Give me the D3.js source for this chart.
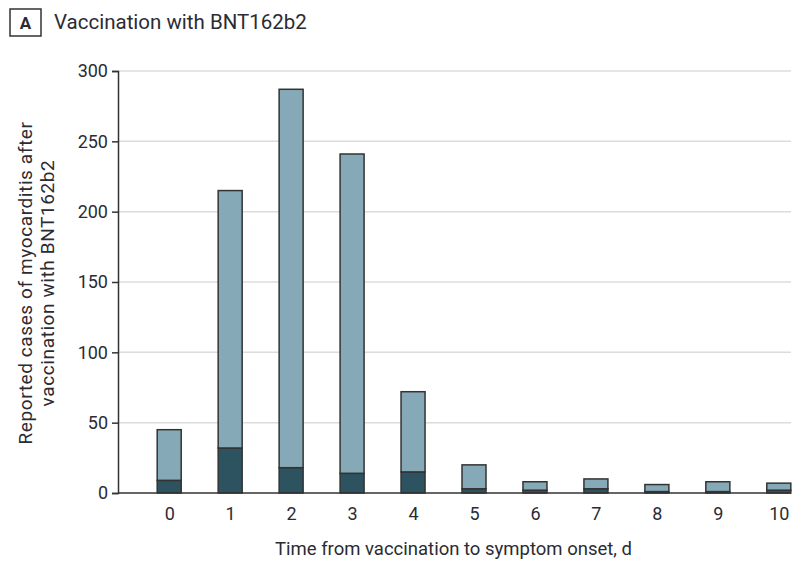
<!DOCTYPE html>
<html>
<head>
<meta charset="utf-8">
<script src="https://cdn.jsdelivr.net/npm/d3@7"></script>
<style>
  html, body { margin: 0; padding: 0; background: #fff; }
  svg { display: block; }
  text { font-family: "Roboto", "Liberation Sans", sans-serif; fill: #2b2b33; }
</style>
</head>
<body>
<svg id="chart" width="792" height="562"></svg>
<script>
// Days from vaccination to symptom onset
const days = [0, 1, 2, 3, 4, 5, 6, 7, 8, 9, 10];
// Dark lower segment of each bar
const darkCases = [9, 32, 18, 14, 15, 3, 2, 3, 1, 1, 2];
// Light upper segment of each bar (remaining reported cases)
const lightCases = [36, 183, 269, 227, 57, 17, 6, 7, 5, 7, 5];
const yTicks = [0, 50, 100, 150, 200, 250, 300];

const svg = d3.select("#chart");
const plotLeft = 118, plotRight = 791, plotTop = 71, plotBottom = 493;
const fontStack = "Roboto, 'Liberation Sans', sans-serif";

const x = d3.scaleLinear().domain([-0.84, 10.2]).range([plotLeft, plotRight]);
const y = d3.scaleLinear().domain([0, 300]).range([plotBottom, plotTop]);
const barW = 24;

const rows = days.map((d, i) => ({ day: d, dark: darkCases[i], light: lightCases[i] }));
const stacked = d3.stack().keys(["dark", "light"])(rows);
const fills = { dark: "#2d5360", light: "#86a9b8" };

// Horizontal gridlines
svg.append("g").selectAll("line")
  .data(yTicks.filter(t => t > 0))
  .join("line")
  .attr("x1", plotLeft).attr("x2", plotRight)
  .attr("y1", d => y(d)).attr("y2", d => y(d))
  .attr("stroke", "#dcdcdc").attr("stroke-width", 1.5);

// Stacked bars
svg.append("g").selectAll("g")
  .data(stacked)
  .join("g")
  .attr("fill", s => fills[s.key])
  .selectAll("rect")
  .data(s => s)
  .join("rect")
  .attr("x", d => x(d.data.day) - barW / 2)
  .attr("width", barW)
  .attr("y", d => y(d[1]))
  .attr("height", d => y(d[0]) - y(d[1]))
  .attr("stroke", "#333")
  .attr("stroke-width", 1.5);

// Y axis
const yAxis = svg.append("g")
  .attr("transform", `translate(${plotLeft},0)`)
  .call(d3.axisLeft(y).tickValues(yTicks).tickSize(6).tickPadding(4));
yAxis.select(".domain").attr("stroke", "#333").attr("stroke-width", 1.5);
yAxis.selectAll(".tick line").attr("stroke", "#333").attr("stroke-width", 1.5);
yAxis.selectAll("text").attr("font-size", 18).attr("fill", "#2b2b33")
  .style("font-family", fontStack);

// X axis
const xAxis = svg.append("g")
  .attr("transform", `translate(0,${plotBottom})`)
  .call(d3.axisBottom(x).tickValues(days).tickSize(0).tickPadding(14).tickFormat(d3.format("d")));
xAxis.select(".domain").attr("d", `M${plotLeft},0H${plotRight}`).attr("stroke", "#333").attr("stroke-width", 1.5);
xAxis.selectAll("text").attr("font-size", 18).attr("fill", "#2b2b33")
  .style("font-family", fontStack);

// Axis titles
svg.append("text")
  .attr("x", 453.5).attr("y", 555)
  .attr("text-anchor", "middle").attr("font-size", 18.5)
  .text("Time from vaccination to symptom onset, d");

const yTitle = svg.append("text")
  .attr("transform", `translate(32,283) rotate(-90)`)
  .attr("text-anchor", "middle").attr("font-size", 19)
  .attr("letter-spacing", 0.6);
yTitle.append("tspan").attr("x", 0).attr("dy", 0).text("Reported cases of myocarditis after");
yTitle.append("tspan").attr("x", 0).attr("dy", 22).text("vaccination with BNT162b2");

// Panel label and title
svg.append("rect")
  .attr("x", 10).attr("y", 9).attr("width", 31).attr("height", 27)
  .attr("fill", "none").attr("stroke", "#333").attr("stroke-width", 1.5);
svg.append("text")
  .attr("x", 25.5).attr("y", 29).attr("text-anchor", "middle")
  .attr("font-size", 17).attr("font-weight", "bold").attr("fill", "#222")
  .text("A");
svg.append("text")
  .attr("x", 54).attr("y", 29).attr("font-size", 20.5).attr("fill", "#2b3050")
  .text("Vaccination with BNT162b2");
</script>
</body>
</html>
